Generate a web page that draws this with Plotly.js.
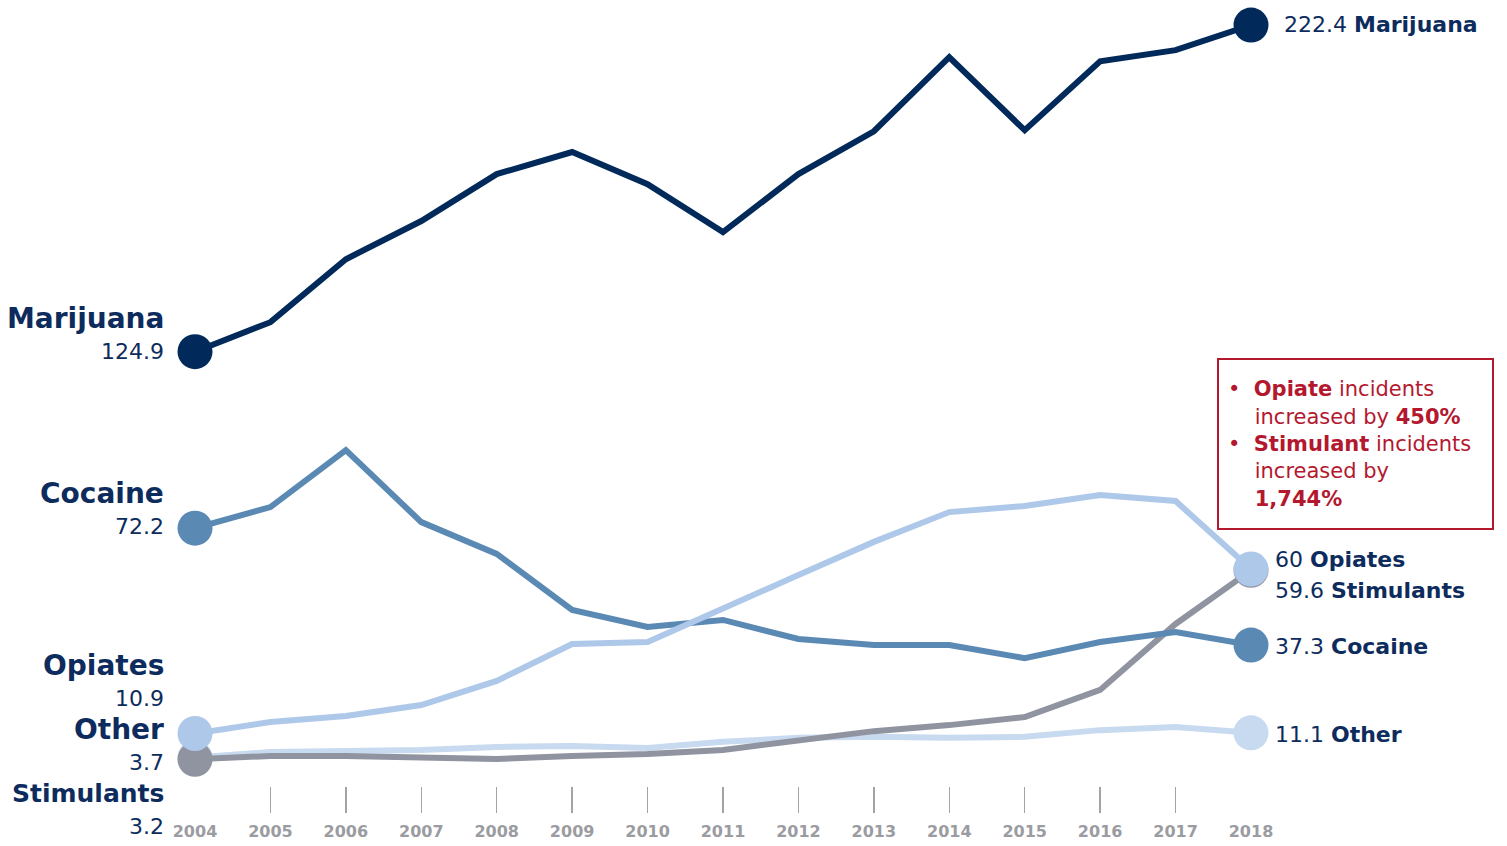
<!DOCTYPE html>
<html>
<head>
<meta charset="utf-8">
<script src="https://cdn.plot.ly/plotly-3.0.1.min.js"></script>
<style>html,body{margin:0;padding:0;background:#fff;}#chart{width:1507px;height:846px;}</style>
</head>
<body>
<div id="chart"></div>
<script>
const years = [2004,2005,2006,2007,2008,2009,2010,2011,2012,2013,2014,2015,2016,2017,2018];
const marijuana  = [124.9,133.7,152.5,163.9,177.9,184.5,174.9,160.6,177.9,190.7,212.8,191.0,211.6,214.9,222.4];
const cocaine    = [72.2,78.5,95.5,74.0,64.5,47.8,42.7,44.8,39.1,37.3,37.3,33.4,38.2,41.2,37.3];
const opiates    = [10.9,14.3,16.1,19.4,26.6,37.6,38.2,48.4,58.2,68.1,77.0,78.8,82.1,80.3,60.0];
const stimulants = [3.2,4.2,4.2,3.6,3.3,4.2,4.8,6.0,8.7,11.6,13.4,15.8,23.9,43.6,59.6];
const other      = [3.7,5.4,5.7,6.0,6.9,7.2,6.6,8.4,9.6,9.9,9.6,9.9,11.9,12.8,11.1];
const seriesNames = ["Other","Stimulants","Cocaine","Opiates","Marijuana"];
const seriesData = [other, stimulants, cocaine, opiates, marijuana];
const colors = {Marijuana:"#012a5b",Cocaine:"#5a89b4",Opiates:"#aec8e9",Stimulants:"#8f94a0",Other:"#c8daef"};
const navy = "#0d2c5d";
const red = "#b3182f";
const FONT = "'DejaVu Sans', sans-serif";
const n = years.length;
const sizes = years.map((y,i)=> (i===0||i===n-1) ? 35 : 0);

const traces = seriesNames.map((name,k)=>({
  x: years, y: seriesData[k], name: name, type:'scatter', mode:'lines+markers',
  line:{color:colors[name], width:6, shape:'linear'},
  marker:{size:sizes, color:colors[name], opacity:1, line:{width:0}},
  opacity:1,
  cliponaxis:false, hoverinfo:'skip', showlegend:false
}));

const leftCfg = {
  Marijuana:{nameShift:33, valShift:0, size:28, ref:marijuana},
  Cocaine:{nameShift:35, valShift:2, size:28, ref:cocaine},
  Opiates:{nameShift:68, valShift:35, size:28, ref:opiates},
  Other:{nameShift:28, valShift:-5, size:28, ref:other},
  Stimulants:{nameShift:-34, valShift:-67, size:25, ref:stimulants}
};
const annotations = [];
Object.keys(leftCfg).forEach(name=>{
  const c = leftCfg[name];
  const v = c.ref[0];
  annotations.push({x:years[0], y:v, xref:'x', yref:'y', text:'<b>'+name+'</b>', showarrow:false,
    xanchor:'right', yanchor:'middle', xshift:-29, yshift:c.nameShift,
    font:{family:FONT, size:c.size, color:navy}});
  annotations.push({x:years[0], y:v, xref:'x', yref:'y', text:String(v), showarrow:false,
    xanchor:'right', yanchor:'middle', xshift:-29, yshift:c.valShift,
    font:{family:FONT, size:22, color:navy}});
});
const rightCfg = {
  Marijuana:{shift:1, dx:31, ref:marijuana},
  Opiates:{shift:10, dx:22, ref:opiates},
  Stimulants:{shift:-20, dx:22, ref:stimulants},
  Cocaine:{shift:-1, dx:22, ref:cocaine},
  Other:{shift:-2, dx:22, ref:other}
};
Object.keys(rightCfg).forEach(name=>{
  const c = rightCfg[name];
  const v = c.ref[n-1];
  annotations.push({x:years[n-1], y:v, xref:'x', yref:'y', text:String(v)+' <b>'+name+'</b>', showarrow:false,
    xanchor:'left', yanchor:'middle', xshift:c.dx, yshift:c.shift,
    font:{family:FONT, size:22, color:navy}});
});
const nb = '\u00a0';
annotations.push({
  xref:'paper', yref:'paper', x:0.968, y:0.46, xanchor:'left', yanchor:'middle', showarrow:false, align:'left',
  width:255, height:150,
  text:'•'+nb+nb+'<b>Opiate</b> incidents<br>'+nb+nb+nb+nb+'increased by <b>450%</b><br>•'+nb+nb+'<b>Stimulant</b> incidents<br>'+nb+nb+nb+nb+'increased by<br>'+nb+nb+nb+nb+'<b>1,744%</b>',
  font:{family:FONT, size:21, color:red},
  bordercolor:red, borderwidth:2, borderpad:9, bgcolor:'#ffffff'
});

const layout = {
  width:1507, height:846,
  margin:{l:195, r:256, t:10, b:33},
  paper_bgcolor:'#fff', plot_bgcolor:'#fff',
  xaxis:{range:[years[0], years[n-1]], tickvals:years, ticktext:years.map(String), ticks:'inside', ticklen:26,
    tickwidth:1.5, tickcolor:'#a3a3a3', showgrid:false, zeroline:false, showline:false,
    ticklabelstandoff:7,
    tickfont:{family:FONT, size:16, color:'#9b9ca1', weight:'bold'}, fixedrange:true},
  yaxis:{range:[-12.84, 226.9], visible:false, showgrid:false, zeroline:false, fixedrange:true},
  annotations: annotations,
  showlegend:false
};
Plotly.newPlot('chart', traces, layout, {displayModeBar:false, staticPlot:true});
</script>
</body>
</html>
